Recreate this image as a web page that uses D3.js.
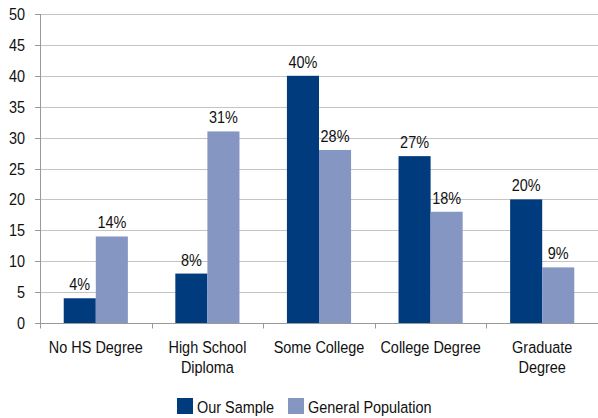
<!DOCTYPE html>
<html><head><meta charset="utf-8">
<script src="https://cdn.jsdelivr.net/npm/d3@7"></script>
<style>
body{margin:0;background:#fff;}
text{font-family:"Liberation Sans",Arial,sans-serif;fill:#111;font-weight:normal;}
</style></head><body>
<svg id="c" width="598" height="418"></svg>
<script>
const categories = [["No HS Degree"],["High School","Diploma"],["Some College"],["College Degree"],["Graduate","Degree"]];
const catKeys = ["No HS Degree","High School Diploma","Some College","College Degree","Graduate Degree"];
const ourSample = [4, 8, 40, 27, 20];
const generalPopulation = [14, 31, 28, 18, 9];
const seriesNames = ["Our Sample","General Population"];
const yTicks = [0,5,10,15,20,25,30,35,40,45,50];
const colors = ["#003B7E","#8696C2"];

const svg = d3.select("#c");
const m = {l:40, r:0, t:14, b:95};
const W = 598, H = 418;
const FS = 17, SX = 0.85;
const x = d3.scaleBand().domain(catKeys).range([m.l, W - m.r]);
const y = d3.scaleLinear().domain([0,50]).range([H - m.b, m.t]);
const inner = d3.scaleBand().domain(seriesNames).range([0, x.bandwidth()]).paddingInner(0).paddingOuter(0.74);

// narrow text helper: real text, horizontally condensed
function ntext(sel, tx, ty, str, anchor){
  const g = sel.append("g").attr("transform", `translate(${tx},${ty})`);
  const t = g.append("text").attr("transform", `scale(${SX},1)`)
    .attr("text-anchor", anchor || "start").attr("font-size", FS).text(str);
  return t;
}

// gridlines
svg.append("g").selectAll("line").data(yTicks.filter(d=>d>0)).join("line")
  .attr("x1", m.l).attr("x2", W).attr("y1", d=>Math.round(y(d))+0.5).attr("y2", d=>Math.round(y(d))+0.5)
  .attr("stroke", "#c4c4c4").attr("stroke-width", 1);

// y axis
const ya = svg.append("g").attr("transform", `translate(${m.l},0)`)
  .call(d3.axisLeft(y).tickValues(yTicks).tickSize(5).tickFormat(""));
ya.select(".domain").attr("stroke","#999").attr("shape-rendering","crispEdges");
ya.selectAll(".tick line").attr("stroke","#999").attr("shape-rendering","crispEdges");
const yl = svg.append("g");
yTicks.forEach(v => ntext(yl, 25, y(v)+6, String(v), "end"));

// bars
const data = catKeys.map((k,i)=>({k, vals:[ourSample[i], generalPopulation[i]]}));
const groups = svg.append("g").selectAll("g").data(data).join("g")
  .attr("transform", d=>`translate(${x(d.k)},0)`);
groups.selectAll("rect").data(d=>d.vals.map((v,j)=>({v, s:seriesNames[j], j}))).join("rect")
  .attr("x", d=>inner(d.s)).attr("width", inner.bandwidth())
  .attr("y", d=>y(d.v)).attr("height", d=>y(0)-y(d.v))
  .attr("fill", d=>colors[d.j]);
groups.each(function(d){
  const g = d3.select(this);
  d.vals.forEach((v,j)=>{
    ntext(g, inner(seriesNames[j])+inner.bandwidth()/2, y(v)-8, v+"%", "middle");
  });
});

// x axis
const xa = svg.append("g").attr("transform", `translate(0,${Math.round(y(0))+0.5})`);
xa.append("line").attr("x1", m.l).attr("x2", W).attr("stroke","#999");
const bounds = catKeys.map(k=>x(k)).concat([x(catKeys[catKeys.length-1])+x.bandwidth()]);
xa.selectAll("line.t").data(bounds).join("line").attr("class","t")
  .attr("x1", d=>Math.round(d)+0.5).attr("x2", d=>Math.round(d)+0.5).attr("y1",0).attr("y2",5)
  .attr("stroke","#999");
categories.forEach((lines,i)=>{
  const cx = x(catKeys[i]) + x.bandwidth()/2;
  lines.forEach((ln,k)=> ntext(xa, cx, 29 + k*20, ln, "middle"));
});

// legend
const lg = svg.append("g").attr("transform","translate(177,398)");
const legX = [0, 111];
seriesNames.forEach((s,i)=>{
  const it = lg.append("g").attr("transform",`translate(${legX[i]},0)`);
  it.append("rect").attr("width",16).attr("height",16).attr("fill",colors[i]);
  ntext(it, 20, 15, s, "start");
});
</script>
</body></html>
